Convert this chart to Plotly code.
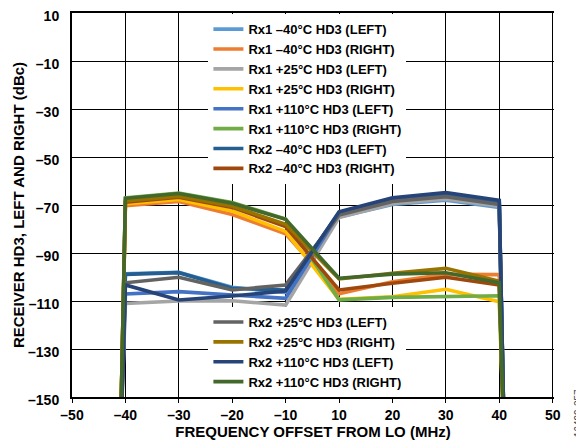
import numpy as np
import plotly.graph_objects as go

# ---- data ----
tick_freqs = [-50, -40, -30, -20, -10, 10, 20, 30, 40, 50]
tick_labels = ["–50", "–40", "–30", "–20", "–10", "10", "20", "30", "40", "50"]
y_ticks = [10, -10, -30, -50, -70, -90, -110, -130, -150]
y_labels = ["10", "–10", "–30", "–50", "–70", "–90", "–110", "–130", "–150"]

freq = [-41, -40, -30, -20, -10, 10, 20, 30, 40, 41]

names = [
    "Rx1 –40°C HD3 (LEFT)", "Rx1 –40°C HD3 (RIGHT)",
    "Rx1 +25°C HD3 (LEFT)", "Rx1 +25°C HD3 (RIGHT)",
    "Rx1 +110°C HD3 (LEFT)", "Rx1 +110°C HD3 (RIGHT)",
    "Rx2 –40°C HD3 (LEFT)", "Rx2 –40°C HD3 (RIGHT)",
    "Rx2 +25°C HD3 (LEFT)", "Rx2 +25°C HD3 (RIGHT)",
    "Rx2 +110°C HD3 (LEFT)", "Rx2 +110°C HD3 (RIGHT)",
]
colors = ["#5B9BD5", "#ED7D31", "#A5A5A5", "#FFC000", "#4472C4", "#70AD47",
          "#255E91", "#9E480E", "#636363", "#997300", "#264478", "#43682B"]

rx1_m40_left = [-175, -98.6, -98.0, -104.3, -106.5, -75.0, -69.8, -68.0, -71.0, -175]
rx1_m40_right = [-175, -70.3, -68.5, -74.0, -82.0, -107.0, -102.0, -98.9, -99.0, -175]
rx1_p25_left = [-175, -111.0, -110.0, -109.9, -111.7, -75.2, -69.5, -67.5, -70.5, -175]
rx1_p25_right = [-175, -69.5, -67.7, -72.5, -81.0, -109.3, -108.2, -105.1, -110.3, -175]
rx1_p110_left = [-175, -107.1, -106.1, -107.5, -108.9, -73.5, -68.0, -65.8, -69.0, -175]
rx1_p110_right = [-175, -67.0, -65.0, -69.0, -75.8, -109.5, -108.5, -108.3, -107.8, -175]
rx2_m40_left = [-175, -98.9, -98.2, -104.7, -105.4, -73.2, -67.5, -65.3, -68.5, -175]
rx2_m40_right = [-175, -68.8, -66.8, -71.0, -79.0, -105.4, -102.6, -100.1, -103.3, -175]
rx2_p25_left = [-175, -102.4, -100.1, -105.4, -103.3, -74.2, -68.5, -66.5, -69.8, -175]
rx2_p25_right = [-175, -68.3, -66.3, -70.5, -78.0, -100.8, -98.5, -96.4, -101.7, -175]
rx2_p110_left = [-175, -103.3, -109.6, -107.9, -105.8, -72.8, -67.0, -64.8, -68.0, -175]
rx2_p110_right = [-175, -67.2, -65.2, -69.3, -76.0, -100.5, -98.8, -98.2, -102.4, -175]

series = [rx1_m40_left, rx1_m40_right, rx1_p25_left, rx1_p25_right,
          rx1_p110_left, rx1_p110_right, rx2_m40_left, rx2_m40_right,
          rx2_p25_left, rx2_p25_right, rx2_p110_left, rx2_p110_right]

# x axis: equally spaced labels with no 0 -> map frequency to label position
tick_pos = list(range(len(tick_freqs)))
xpos = np.interp(freq, tick_freqs, tick_pos)

FONT = "Liberation Sans, Arial, sans-serif"

fig = go.Figure()
for i, (nm, col, vals) in enumerate(zip(names, colors, series)):
    fig.add_trace(go.Scatter(
        x=xpos, y=vals, mode="lines", name=nm,
        line=dict(color=col, width=3.6),
        legend="legend" if i < 8 else "legend2",
    ))

# page body has an 8px default margin -> figure is 8px smaller than window
fig.update_layout(
    width=576, height=436,
    margin=dict(l=64, r=30, t=5, b=47, autoexpand=False),
    paper_bgcolor="white", plot_bgcolor="white",
    font=dict(family=FONT, size=14, color="black", weight="bold"),
    showlegend=True,
    legend=dict(
        x=0.283, y=0.997, xanchor="left", yanchor="top",
        bgcolor="white", borderwidth=0,
        font=dict(family=FONT, size=13, color="black", weight="bold"),
        tracegroupgap=0,
    ),
    legend2=dict(
        x=0.283, y=0.0, xanchor="left", yanchor="bottom",
        bgcolor="white", borderwidth=0,
        font=dict(family=FONT, size=13, color="black", weight="bold"),
        tracegroupgap=0,
    ),
)

fig.update_xaxes(
    range=[0, 9.025], tickmode="array", tickvals=tick_pos, ticktext=tick_labels,
    automargin=False,
    showgrid=True, gridcolor="black", gridwidth=1,
    showline=True, linecolor="black", linewidth=2, mirror=True,
    ticks="outside", ticklen=4, tickcolor="black", tickwidth=1,
    ticklabelstandoff=0,
    zeroline=False,
    tickfont=dict(family=FONT, size=14, weight="bold"),
    title=dict(text="FREQUENCY OFFSET FROM LO (MHz)", standoff=5,
               font=dict(family=FONT, size=15, weight="bold")),
)
fig.update_yaxes(
    range=[-150, 10], tickmode="array", tickvals=y_ticks, ticktext=y_labels,
    automargin=False,
    showgrid=True, gridcolor="black", gridwidth=1,
    showline=True, linecolor="black", linewidth=2,
    ticks="", ticklabelstandoff=8, ticklabelshift=3,
    ticklabeloverflow="allow",
    zeroline=False,
    tickfont=dict(family=FONT, size=14, weight="bold"),
    title=dict(text="RECEIVER HD3, LEFT AND RIGHT (dBc)", standoff=0,
               font=dict(family=FONT, size=15, weight="bold")),
)

fig.add_annotation(
    text="16499-357", xref="paper", yref="paper", x=1.05, y=-0.042,
    xanchor="center", yanchor="middle",
    showarrow=False, textangle=-90,
    font=dict(family=FONT, size=10, color="#444444", weight="normal"),
)

fig.write_html("out.html")
